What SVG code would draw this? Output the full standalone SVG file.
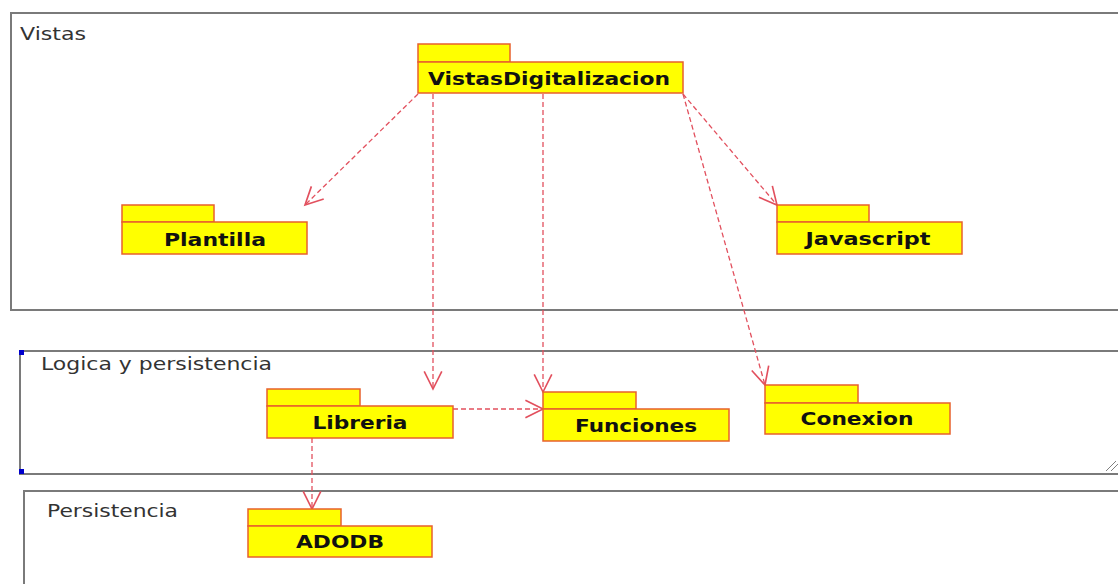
<svg xmlns="http://www.w3.org/2000/svg" width="1118" height="584" viewBox="0 0 1118 584">
  <style>
    .frame { fill: #ffffff; stroke: #7a7a7a; stroke-width: 2; }
    .flabel { font-family: "DejaVu Sans", sans-serif; font-size: 17px; fill: #333333; }
    .pkg { fill: #ffff00; stroke: #e8602c; stroke-width: 1.5; }
    .plabel { font-family: "DejaVu Sans", sans-serif; font-size: 17px; font-weight: bold; fill: #111111; text-anchor: middle; }
    .dep { fill: none; stroke: #e2505e; stroke-width: 1.3; stroke-dasharray: 5 3; marker-end: url(#open); }
  </style>
  <defs>
    <marker id="open" viewBox="0 0 20 20" refX="18" refY="10" markerWidth="22" markerHeight="22" markerUnits="userSpaceOnUse" orient="auto">
      <path d="M2,2 L18,10 L2,18" fill="none" stroke="#e2505e" stroke-width="1.5"/>
    </marker>
  </defs>
  <rect width="1118" height="584" fill="#ffffff"/>

  <!-- layer frames -->
  <g id="frame-vistas">
    <rect class="frame" x="11" y="13" width="1120" height="297"/>
    <text class="flabel" x="20" y="40" textLength="66" lengthAdjust="spacingAndGlyphs">Vistas</text>
  </g>
  <g id="frame-logica">
    <rect class="frame" x="20" y="351" width="1110" height="123"/>
    <rect x="19" y="350" width="5" height="5" fill="#0000cc"/>
    <rect x="19" y="469" width="5" height="5" fill="#0000cc"/>
    <path d="M1106,471 L1116,461 M1111,471 L1118,464" stroke="#808080" stroke-width="1" fill="none"/>
    <text class="flabel" x="41" y="370" textLength="231" lengthAdjust="spacingAndGlyphs">Logica y persistencia</text>
  </g>
  <g id="frame-persistencia">
    <rect class="frame" x="24" y="491" width="1110" height="110"/>
    <text class="flabel" x="47" y="517" textLength="131" lengthAdjust="spacingAndGlyphs">Persistencia</text>
  </g>

  <!-- dependency connectors -->
  <g id="connectors">
    <line class="dep" x1="418" y1="94" x2="305" y2="205"/>
    <line class="dep" x1="433" y1="94" x2="433" y2="389"/>
    <line class="dep" x1="543" y1="94" x2="543" y2="392"/>
    <line class="dep" x1="683" y1="94" x2="777" y2="205"/>
    <line class="dep" x1="683" y1="94" x2="765" y2="385"/>
    <line class="dep" x1="453" y1="409" x2="543" y2="409"/>
    <line class="dep" x1="312" y1="438" x2="312" y2="509"/>
  </g>

  <!-- packages -->
  <g id="pkg-vistasdigitalizacion">
    <rect class="pkg" x="418" y="44" width="92" height="18"/>
    <rect class="pkg" x="418" y="62" width="265" height="31"/>
    <text class="plabel" x="549" y="85" textLength="242" lengthAdjust="spacingAndGlyphs">VistasDigitalizacion</text>
  </g>
  <g id="pkg-plantilla">
    <rect class="pkg" x="122" y="205" width="92" height="17"/>
    <rect class="pkg" x="122" y="222" width="185" height="32"/>
    <text class="plabel" x="215" y="246" textLength="102" lengthAdjust="spacingAndGlyphs">Plantilla</text>
  </g>
  <g id="pkg-javascript">
    <rect class="pkg" x="777" y="205" width="92" height="17"/>
    <rect class="pkg" x="777" y="222" width="185" height="32"/>
    <text class="plabel" x="868" y="245" textLength="125" lengthAdjust="spacingAndGlyphs">Javascript</text>
  </g>
  <g id="pkg-libreria">
    <rect class="pkg" x="267" y="389" width="93" height="17"/>
    <rect class="pkg" x="267" y="406" width="186" height="32"/>
    <text class="plabel" x="360" y="429" textLength="95" lengthAdjust="spacingAndGlyphs">Libreria</text>
  </g>
  <g id="pkg-funciones">
    <rect class="pkg" x="543" y="392" width="93" height="17"/>
    <rect class="pkg" x="543" y="409" width="186" height="32"/>
    <text class="plabel" x="636" y="432" textLength="122" lengthAdjust="spacingAndGlyphs">Funciones</text>
  </g>
  <g id="pkg-conexion">
    <rect class="pkg" x="765" y="385" width="93" height="18"/>
    <rect class="pkg" x="765" y="403" width="185" height="31"/>
    <text class="plabel" x="857" y="425" textLength="113" lengthAdjust="spacingAndGlyphs">Conexion</text>
  </g>
  <g id="pkg-adodb">
    <rect class="pkg" x="248" y="509" width="93" height="17"/>
    <rect class="pkg" x="248" y="526" width="184" height="31"/>
    <text class="plabel" x="340" y="548" textLength="88" lengthAdjust="spacingAndGlyphs">ADODB</text>
  </g>
</svg>
